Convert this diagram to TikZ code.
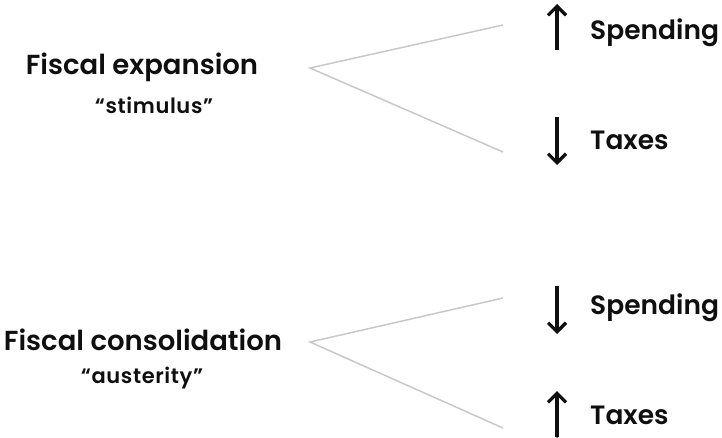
\documentclass[tikz,border=0pt]{standalone}
\usepackage{fontspec}
\setmainfont{Poppins}[UprightFont=* Medium,BoldFont=* SemiBold]
\newfontfamily\subfont{Poppins SemiBold}[LetterSpace=3]
\usetikzlibrary{arrows.meta}
\definecolor{line_gray}{RGB}{200,200,200}
\definecolor{text_black}{RGB}{15,15,15}

\begin{document}
\begin{tikzpicture}[x=1pt,y=-1pt,>={Straight Barb[length=9pt,width=18pt]}]
    \tikzstyle{title}=[text=text_black,font=\bfseries\fontsize{27.5}{32}\selectfont,inner sep=0pt]
    \tikzstyle{sub}=[text=text_black,font=\subfont\fontsize{21}{25}\selectfont,inner sep=0pt]
    \tikzstyle{item}=[text=text_black,font=\bfseries\fontsize{26.5}{30}\selectfont,inner sep=0pt,anchor=west]
    \tikzstyle{branch}=[draw=line_gray,line width=1.5pt]
    \tikzstyle{dir}=[draw=text_black,line width=3.2pt,->]

    \useasboundingbox (0,0) rectangle (722,437);

    % expansion
    \node[title] (exp) at (142,67) {Fiscal expansion};
    \node[sub]   (stim) at (154,105) {“stimulus”};
    \coordinate (expfork) at (310,68);
    \coordinate (expup) at (503,25);
    \coordinate (expdn) at (503,152);
    \node[item] (spend1) at (590,33) {Spending};
    \node[item] (tax1) at (590,140) {Taxes};
    \coordinate (a1s) at (557,50);
    \coordinate (a1e) at (557,4);
    \coordinate (a2s) at (557,117);
    \coordinate (a2e) at (557,165);

    % consolidation
    \node[title] (con) at (143,340) {Fiscal consolidation};
    \node[sub]   (aust) at (142,378) {“austerity”};
    \coordinate (confork) at (310,342);
    \coordinate (conup) at (503,298);
    \coordinate (condn) at (503,428);
    \node[item] (spend2) at (590,308) {Spending};
    \node[item] (tax2) at (590,415) {Taxes};
    \coordinate (a3s) at (557,286);
    \coordinate (a3e) at (557,334);
    \coordinate (a4s) at (557,437);
    \coordinate (a4e) at (557,391);

    \path[branch]
     (expup) -- (expfork) -- (expdn)
     (conup) -- (confork) -- (condn);
    \path[dir]
     (a1s) edge (a1e)
     (a2s) edge (a2e)
     (a3s) edge (a3e)
     (a4s) edge (a4e);
\end{tikzpicture}
\end{document}
